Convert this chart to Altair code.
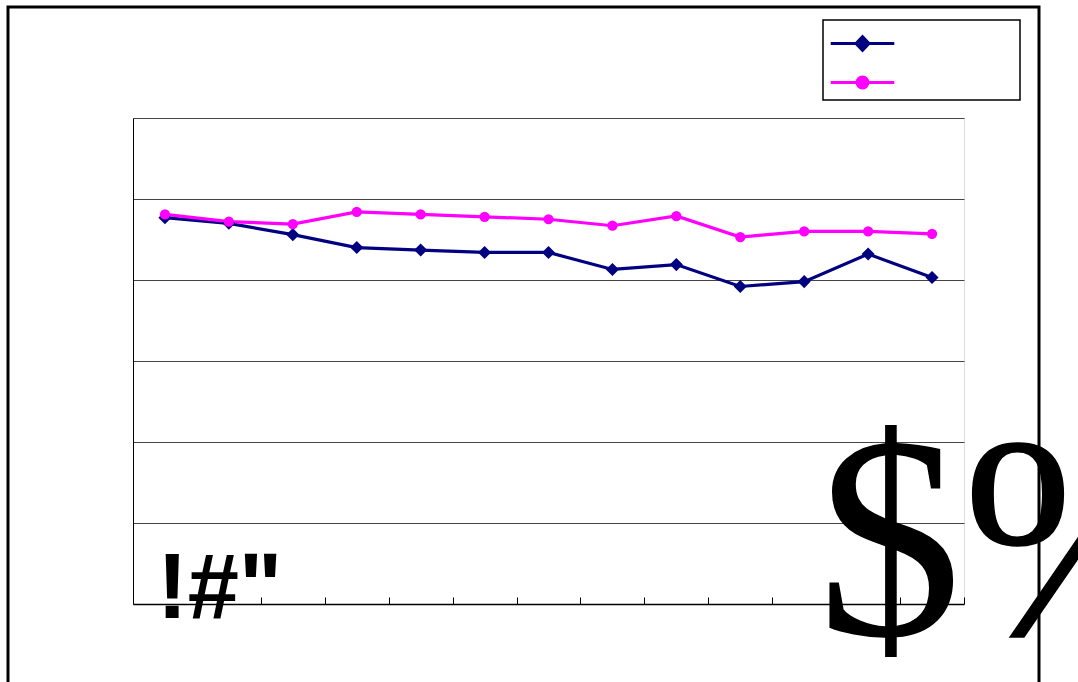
import altair as alt
import pandas as pd

# ---- data ----
series_names = ["系列1", "系列2"]
categories = list(range(1, 14))
navy_values = [4.77, 4.70, 4.56, 4.40, 4.37, 4.34, 4.34, 4.13, 4.19, 3.92, 3.98, 4.32, 4.03]
magenta_values = [4.81, 4.72, 4.69, 4.84, 4.81, 4.78, 4.75, 4.67, 4.79, 4.53, 4.60, 4.60, 4.57]
y_ticks = [0, 1, 2, 3, 4, 5, 6]
x_tick_positions = [0.5 + i for i in range(14)]
garbled_left = ['!#"']
garbled_right = ['$%']

rows = []
for s, vals in zip(series_names, [navy_values, magenta_values]):
    for c, v in zip(categories, vals):
        rows.append({"series": s, "cat": c, "value": v})
df = pd.DataFrame(rows)

W, H = 831, 486
colors = ["#000080", "#FF00FF"]
color_scale = alt.Scale(domain=series_names, range=colors)

# legend symbol paths in units of 6 px (symbolSize 144 -> half-width 6 px)
diamond_path = "M-5.3,0L5.3,0M-1.08,0L0,-1.12L1.08,0L0,1.12Z"
circle_path = "M-5.3,0L5.3,0M-0.9,0A0.9,0.9,0,1,1,0.9,0A0.9,0.9,0,1,1,-0.9,0Z"

legend = alt.Legend(
    orient="none", legendX=722, legendY=-82, title=None, labelExpr="''",
    padding=0, symbolSize=144, rowPadding=14, labelFontSize=10,
    symbolType=alt.ExprRef(expr=f"datum.value === '{series_names[0]}' ? '{diamond_path}' : '{circle_path}'"),
    symbolStrokeWidth=3,
    symbolFillColor=alt.ExprRef(expr="scale('color', datum.value)"),
    symbolStrokeColor=alt.ExprRef(expr="scale('color', datum.value)"),
    symbolOpacity=1,
)

x_enc = alt.X("cat:Q", scale=alt.Scale(domain=[0.5, 13.5], nice=False, zero=False),
              axis=alt.Axis(values=x_tick_positions, labels=False, domain=False, ticks=True,
                            tickSize=7, tickColor="black", tickWidth=1, offset=-7,
                            grid=False, title=None))
y_enc = alt.Y("value:Q", scale=alt.Scale(domain=[0, 6], nice=False, zero=True),
              axis=alt.Axis(values=y_ticks, labels=False, ticks=False, title=None,
                            domain=True, domainColor="black", domainWidth=1,
                            grid=True,
                            gridColor=alt.condition("datum.value === 0", alt.value("black"), alt.value("#444")),
                            gridWidth=alt.condition("datum.value === 0", alt.value(1.5), alt.value(1))))

frame = alt.Chart(pd.DataFrame({"k": [0]})).mark_rect(
    fill=None, stroke="black", strokeWidth=3
).encode(x=alt.value(-125), x2=alt.value(906), y=alt.value(-111), y2=alt.value(640))

legend_box = alt.Chart(pd.DataFrame({"k": [0]})).mark_rect(
    fill="white", stroke="black", strokeWidth=1.5
).encode(x=alt.value(690), x2=alt.value(887), y=alt.value(-98), y2=alt.value(-18))

base = alt.Chart(df)
lines = base.mark_line(strokeWidth=3.2).encode(
    x=x_enc, y=y_enc,
    color=alt.Color("series:N", scale=color_scale, legend=legend),
    detail="series:N",
)
pts_navy = base.transform_filter(alt.datum.series == series_names[0]).mark_point(
    filled=True, opacity=1, size=170, shape="diamond"
).encode(x="cat:Q", y="value:Q",
         color=alt.Color("series:N", scale=color_scale, legend=legend))
pts_mag = base.transform_filter(alt.datum.series == series_names[1]).mark_point(
    filled=True, opacity=1, size=105, shape="circle"
).encode(x="cat:Q", y="value:Q",
         color=alt.Color("series:N", scale=color_scale, legend=legend))

txt_left = alt.Chart(pd.DataFrame({"t": garbled_left})).mark_text(
    font="Liberation Sans", fontSize=92,
    fontWeight="bold", align="left", baseline="alphabetic", color="black"
).encode(text="t:N", x=alt.value(24), y=alt.value(500))

txt_right = alt.Chart(pd.DataFrame({"t": garbled_right})).mark_text(
    font="Liberation Serif", fontSize=290,
    align="left", baseline="alphabetic", color="black"
).encode(text="t:N", x=alt.value(684), y=alt.value(517))

chart = alt.layer(frame, legend_box, lines, pts_navy, pts_mag, txt_left, txt_right).properties(
    width=W, height=H,
    autosize=alt.AutoSizeParams(type="none"),
    padding={"left": 133, "top": 118, "right": 114, "bottom": 78},
).configure_view(stroke=None).configure(background="white")

chart.save("out.html", embed_options={"renderer": "svg", "actions": False})
